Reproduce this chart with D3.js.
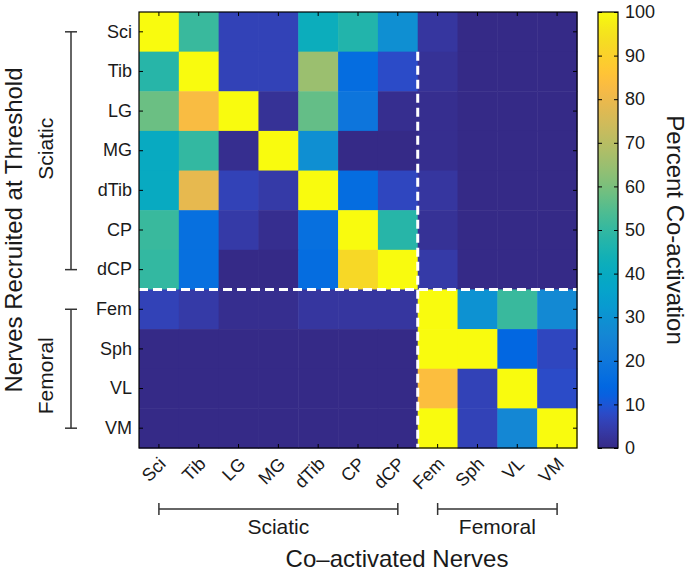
<!DOCTYPE html>
<html><head><meta charset="utf-8">
<script src="https://cdn.jsdelivr.net/npm/d3@7"></script>
<style>
body{margin:0;background:#fff;}
svg text{font-family:"Liberation Sans",Arial,Helvetica,sans-serif;fill:#1a1a1a;}
</style></head>
<body><svg id="chart" width="692" height="574"></svg>
<script>
// ---- data ----
const nerves = ["Sci","Tib","LG","MG","dTib","CP","dCP","Fem","Sph","VL","VM"];
const rowSci  = [100, 51,  6,  6, 42, 47, 29,   3,   0,   0,   0];
const rowTib  = [ 48,100,  6,  6, 65, 16,  8,   2,   0,   0,   0];
const rowLG   = [ 58, 83,100,  2, 57, 19,  1,   1,   0,   0,   0];
const rowMG   = [ 40, 50,  1,100, 29,  0,  0,   1,   0,   0,   0];
const rowdTib = [ 40, 79,  6,  4,100, 16,  7,   3,   0,   0,   0];
const rowCP   = [ 51, 17,  4,  1, 17,100, 48,   2,   0,   0,   0];
const rowdCP  = [ 50, 17,  0,  0, 16, 92,100,   4,   0,   0,   0];
const rowFem  = [  6,  4,  1,  1,  3,  3,  3, 100,  30,  51,  27];
const rowSph  = [  0,  0,  0,  0,  0,  0,  0, 100, 100,  14,   7];
const rowVL   = [  0,  0,  0,  0,  0,  0,  0,  84,   6, 100,   8];
const rowVM   = [  0,  0,  0,  0,  0,  0,  0, 100,   6,  26, 100];
const matrix = [rowSci,rowTib,rowLG,rowMG,rowdTib,rowCP,rowdCP,rowFem,rowSph,rowVL,rowVM];
const colorTicks = [0,10,20,30,40,50,60,70,80,90,100];
const groups = [{name:"Sciatic", from:"Sci", to:"dCP"},{name:"Femoral", from:"Fem", to:"VM"}];

// parula colormap (64 entries)
const parula = [[0.2081,0.1663,0.5292],[0.2116,0.1898,0.5777],[0.2123,0.2138,0.6270],[0.2081,0.2386,0.6771],[0.1959,0.2645,0.7279],[0.1707,0.2919,0.7792],[0.1253,0.3242,0.8303],[0.0591,0.3598,0.8683],[0.0117,0.3875,0.8820],[0.0060,0.4086,0.8828],[0.0165,0.4266,0.8786],[0.0329,0.4430,0.8720],[0.0498,0.4586,0.8641],[0.0629,0.4737,0.8554],[0.0723,0.4887,0.8467],[0.0779,0.5040,0.8384],[0.0793,0.5200,0.8312],[0.0749,0.5375,0.8263],[0.0641,0.5570,0.8240],[0.0488,0.5772,0.8228],[0.0343,0.5966,0.8199],[0.0265,0.6137,0.8135],[0.0239,0.6287,0.8038],[0.0231,0.6418,0.7913],[0.0228,0.6535,0.7768],[0.0267,0.6642,0.7607],[0.0384,0.6743,0.7436],[0.0590,0.6838,0.7254],[0.0843,0.6928,0.7062],[0.1133,0.7015,0.6859],[0.1453,0.7098,0.6646],[0.1801,0.7177,0.6424],[0.2178,0.7250,0.6193],[0.2586,0.7317,0.5954],[0.3022,0.7376,0.5712],[0.3482,0.7424,0.5473],[0.3953,0.7459,0.5244],[0.4420,0.7481,0.5033],[0.4871,0.7491,0.4840],[0.5300,0.7491,0.4661],[0.5709,0.7485,0.4494],[0.6099,0.7473,0.4337],[0.6473,0.7456,0.4188],[0.6834,0.7435,0.4044],[0.7184,0.7411,0.3905],[0.7525,0.7384,0.3768],[0.7858,0.7356,0.3633],[0.8185,0.7327,0.3498],[0.8507,0.7299,0.3360],[0.8824,0.7274,0.3217],[0.9139,0.7258,0.3063],[0.9450,0.7261,0.2886],[0.9739,0.7314,0.2666],[0.9938,0.7455,0.2403],[0.9990,0.7653,0.2164],[0.9955,0.7861,0.1967],[0.9880,0.8066,0.1794],[0.9789,0.8271,0.1633],[0.9697,0.8481,0.1475],[0.9626,0.8705,0.1309],[0.9589,0.8949,0.1132],[0.9598,0.9218,0.0948],[0.9661,0.9514,0.0755],[0.9763,0.9831,0.0538]]
  .map(c => d3.rgb(c[0]*255,c[1]*255,c[2]*255).formatHex());
const interp = d3.interpolateRgbBasis(parula);

// ---- layout ----
const svg = d3.select("#chart");
const L=139, R=577, T=12, B=448;
const x = d3.scaleBand().domain(nerves).range([L,R]);
const y = d3.scaleBand().domain(nerves).range([T,B]);
const color = d3.scaleSequential(interp).domain([0,100]);

const cells = [];
matrix.forEach((row,i)=>row.forEach((v,j)=>cells.push({r:nerves[i],c:nerves[j],v})));
svg.append("g").selectAll("rect").data(cells).join("rect")
  .attr("x",d=>x(d.c)).attr("y",d=>y(d.r))
  .attr("width",x.bandwidth()+0.5).attr("height",y.bandwidth()+0.5)
  .attr("fill",d=>color(d.v));

// dashed separators
const split = x("Fem");
svg.append("line").attr("x1",split).attr("x2",split).attr("y1",y("Tib")).attr("y2",B)
  .attr("stroke","#fff").attr("stroke-width",3).attr("stroke-dasharray","9,5");
svg.append("line").attr("x1",L).attr("x2",R).attr("y1",y("Fem")).attr("y2",y("Fem"))
  .attr("stroke","#fff").attr("stroke-width",3).attr("stroke-dasharray","9,5");

// axes
const fs = "18px";
const ax = svg.append("g");
ax.append("g").attr("transform",`translate(0,${B})`)
  .call(d3.axisBottom(x).tickSizeInner(-4).tickSizeOuter(0).tickPadding(8))
  .call(g=>{g.select(".domain").remove();
    g.selectAll("text").attr("font-size",fs).attr("text-anchor","end")
     .attr("dy",0).attr("y",0)
     .attr("transform","translate(8,17) rotate(-45)");});
ax.append("g").attr("transform",`translate(0,${T})`)
  .call(d3.axisTop(x).tickSizeInner(-4).tickSizeOuter(0).tickFormat(""))
  .call(g=>g.select(".domain").remove());
ax.append("g").attr("transform",`translate(${L},0)`)
  .call(d3.axisLeft(y).tickSizeInner(-4).tickSizeOuter(0).tickPadding(7))
  .call(g=>{g.select(".domain").remove(); g.selectAll("text").attr("font-size",fs);});
ax.append("g").attr("transform",`translate(${R},0)`)
  .call(d3.axisRight(y).tickSizeInner(-4).tickSizeOuter(0).tickFormat(""))
  .call(g=>g.select(".domain").remove());
ax.selectAll("text").attr("font-family",null).attr("fill","#1a1a1a");
ax.selectAll("line").attr("stroke","#000");
svg.append("rect").attr("x",L).attr("y",T).attr("width",R-L).attr("height",B-T)
  .attr("fill","none").attr("stroke","#000").attr("stroke-width",1.2);

// colorbar
const cbL=598, cbR=618;
const cy = d3.scaleLinear().domain([0,100]).range([B,T]);
const defs = svg.append("defs");
const grad = defs.append("linearGradient").attr("id","cbg").attr("x1",0).attr("y1",1).attr("x2",0).attr("y2",0);
grad.selectAll("stop").data(d3.range(0,101,2)).join("stop")
  .attr("offset",d=>d+"%").attr("stop-color",d=>color(d));
svg.append("rect").attr("x",cbL).attr("y",T).attr("width",cbR-cbL).attr("height",B-T).attr("fill","url(#cbg)");
const cbAx = svg.append("g").attr("transform",`translate(${cbR},0)`)
  .call(d3.axisRight(cy).tickValues(colorTicks).tickSizeInner(-4).tickSizeOuter(0).tickPadding(7));
cbAx.select(".domain").remove();
cbAx.selectAll("text").attr("font-size",fs).attr("font-family",null).attr("fill","#1a1a1a");
cbAx.selectAll("line").attr("stroke","#000");
svg.append("g").attr("transform",`translate(${cbL},0)`)
  .call(d3.axisLeft(cy).tickValues(colorTicks).tickSizeInner(-4).tickSizeOuter(0).tickFormat(""))
  .call(g=>{g.select(".domain").remove(); g.selectAll("line").attr("stroke","#000");});
svg.append("rect").attr("x",cbL).attr("y",T).attr("width",cbR-cbL).attr("height",B-T)
  .attr("fill","none").attr("stroke","#000").attr("stroke-width",1.2);
svg.append("text").attr("transform",`translate(667,${(T+B)/2}) rotate(90)`)
  .attr("text-anchor","middle").attr("font-size","24px").text("Percent Co-activation");

// group brackets
const bc = "#333";
const cap = 6;
groups.forEach((g,i)=>{
  // left
  const y1 = y(g.from)+y.bandwidth()/2, y2 = y(g.to)+y.bandwidth()/2, lx=71;
  const gl = svg.append("g").attr("stroke",bc).attr("stroke-width",1.5);
  gl.append("line").attr("x1",lx).attr("x2",lx).attr("y1",y1).attr("y2",y2);
  gl.append("line").attr("x1",lx-cap).attr("x2",lx+cap).attr("y1",y1).attr("y2",y1);
  gl.append("line").attr("x1",lx-cap).attr("x2",lx+cap).attr("y1",y2).attr("y2",y2);
  const ly = i===0 ? (y1+y2)/2 - 2 : (y1+y2)/2 + 7;
  svg.append("text").attr("transform",`translate(53,${ly}) rotate(-90)`)
    .attr("text-anchor","middle").attr("font-size","21px").text(g.name);
  // bottom
  const x1 = x(g.from)+x.bandwidth()/2, x2 = x(g.to)+x.bandwidth()/2, by=509;
  const gb = svg.append("g").attr("stroke",bc).attr("stroke-width",1.5);
  gb.append("line").attr("x1",x1).attr("x2",x2).attr("y1",by).attr("y2",by);
  gb.append("line").attr("x1",x1).attr("x2",x1).attr("y1",by-cap).attr("y2",by+cap);
  gb.append("line").attr("x1",x2).attr("x2",x2).attr("y1",by-cap).attr("y2",by+cap);
  svg.append("text").attr("x",(x1+x2)/2).attr("y",534)
    .attr("text-anchor","middle").attr("font-size","21px").text(g.name);
});

// axis titles
svg.append("text").attr("x",397).attr("y",567).attr("text-anchor","middle")
  .attr("font-size","24px").text("Co\u2013activated Nerves");
svg.append("text").attr("transform",`translate(22,${(T+B)/2}) rotate(-90)`)
  .attr("text-anchor","middle").attr("font-size","24px").text("Nerves Recruited at Threshold");
</script></body></html>
